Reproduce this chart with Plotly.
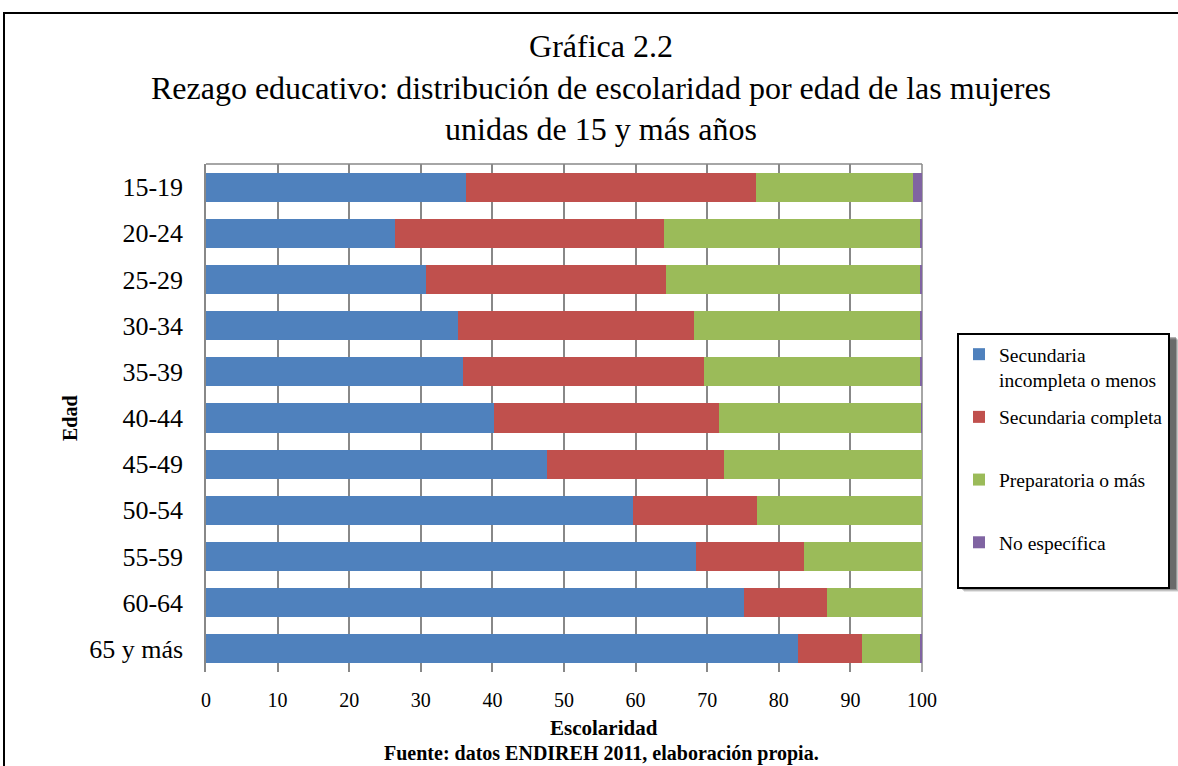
import plotly.graph_objects as go

# Grupos de edad (de arriba hacia abajo)
edades = ["15-19", "20-24", "25-29", "30-34", "35-39", "40-44",
          "45-49", "50-54", "55-59", "60-64", "65 y más"]

# Porcentajes por nivel de escolaridad
sec_incompleta = [36.3, 26.4, 30.7, 35.2, 35.9, 40.2, 47.6, 59.6, 68.5, 75.2, 82.7]
sec_completa = [40.5, 37.5, 33.5, 32.9, 33.7, 31.5, 24.7, 17.3, 15.0, 11.6, 8.9]
preparatoria = [21.9, 35.9, 35.5, 31.7, 30.1, 28.2, 27.7, 23.1, 16.5, 13.2, 8.2]
no_especifica = [1.3, 0.2, 0.3, 0.2, 0.3, 0.1, 0.0, 0.0, 0.0, 0.0, 0.2]

x_ticks = [0, 10, 20, 30, 40, 50, 60, 70, 80, 90, 100]

series = [
    ("Secundaria<br>incompleta o menos", sec_incompleta, "#4F81BD"),
    ("Secundaria completa<br> ", sec_completa, "#C0504D"),
    ("Preparatoria o más<br> ", preparatoria, "#9BBB59"),
    ("No específica<br> ", no_especifica, "#8064A2"),
]

SERIF = "Liberation Serif, Times New Roman, serif"
W, H = 1178, 766
L, R, T, B = 206, 256, 164, 94
PW, PH = W - L - R, H - T - B


def px(xp):
    return (xp - L) / PW


def py(yp):
    return (H - B - yp) / PH


fig = go.Figure()
for i, (name, vals, color) in enumerate(series):
    fig.add_trace(go.Bar(
        y=edades, x=vals, name=name, orientation="h",
        marker=dict(color=color, line=dict(width=0)),
        legendgroup=f"g{i}",
    ))

shapes = [
    # borde superior y derecho del área de trazado
    dict(type="line", xref="paper", yref="paper", x0=0, x1=1, y0=1, y1=1,
         line=dict(color="#888888", width=1.5), layer="below"),
    dict(type="line", xref="paper", yref="paper", x0=1, x1=1, y0=0, y1=1,
         line=dict(color="#888888", width=1.5), layer="below"),
    # marco exterior
    dict(type="rect", xref="paper", yref="paper",
         x0=px(4), x1=px(1185), y0=py(775), y1=py(13),
         line=dict(color="black", width=2), fillcolor="rgba(0,0,0,0)"),
]
# sombra de la leyenda
for off, alpha in [(7, 0.10), (6, 0.15), (5, 0.22), (4, 0.30)]:
    shapes.append(dict(type="rect", xref="paper", yref="paper",
                       x0=px(957 + off), x1=px(1172 + off),
                       y0=py(585 + off), y1=py(333 + off),
                       line=dict(width=0), fillcolor=f"rgba(0,0,0,{alpha})"))

annotations = [
    dict(text="<b>Escolaridad</b>", x=px(604), y=py(728), xref="paper", yref="paper",
         showarrow=False, font=dict(family=SERIF, size=21, color="black"),
         xanchor="center", yanchor="middle"),
    dict(text="<b>Fuente: datos ENDIREH 2011, elaboración propia.</b>",
         x=px(601), y=py(753), xref="paper", yref="paper",
         showarrow=False, font=dict(family=SERIF, size=20, color="black"),
         xanchor="center", yanchor="middle"),
    dict(text="<b>Edad</b>", x=px(70), y=py(418), xref="paper", yref="paper",
         showarrow=False, textangle=-90, font=dict(family=SERIF, size=20, color="black"),
         xanchor="center", yanchor="middle"),
]

fig.update_layout(
    width=W, height=H,
    margin=dict(l=L, r=R, t=T, b=B, autoexpand=False),
    paper_bgcolor="white", plot_bgcolor="white",
    barmode="stack", bargap=0.37,
    font=dict(family=SERIF, color="black"),
    title=dict(
        text="Gráfica 2.2<br>Rezago educativo: distribución de escolaridad por edad de las mujeres"
             "<br>unidas de 15 y más años",
        x=601 / W, xanchor="center", xref="container",
        y=1 - 57 / H, yanchor="top", yref="container",
        font=dict(family=SERIF, size=32, color="black"),
    ),
    xaxis=dict(
        range=[0, 100], tickvals=x_ticks, ticktext=[str(v) for v in x_ticks],
        showgrid=True, gridcolor="#888888", gridwidth=1.5,
        zeroline=False, showline=False, ticks="",
        tickfont=dict(family=SERIF, size=20, color="black"),
        ticklabelstandoff=14,
    ),
    yaxis=dict(
        categoryorder="array", categoryarray=edades, autorange="reversed",
        showgrid=False, zeroline=False,
        showline=True, linecolor="#888888", linewidth=1.5,
        ticks="", tickfont=dict(family=SERIF, size=26, color="black"),
        ticklabelstandoff=16,
    ),
    legend=dict(
        x=px(957), y=py(333), xanchor="left", yanchor="top",
        bordercolor="black", borderwidth=2, bgcolor="white",
        font=dict(family=SERIF, size=19.5, color="black"),
        tracegroupgap=9, valign="top", traceorder="grouped",
        itemwidth=30,
    ),
    shapes=shapes,
    annotations=annotations,
)

fig.write_html("out.html")
